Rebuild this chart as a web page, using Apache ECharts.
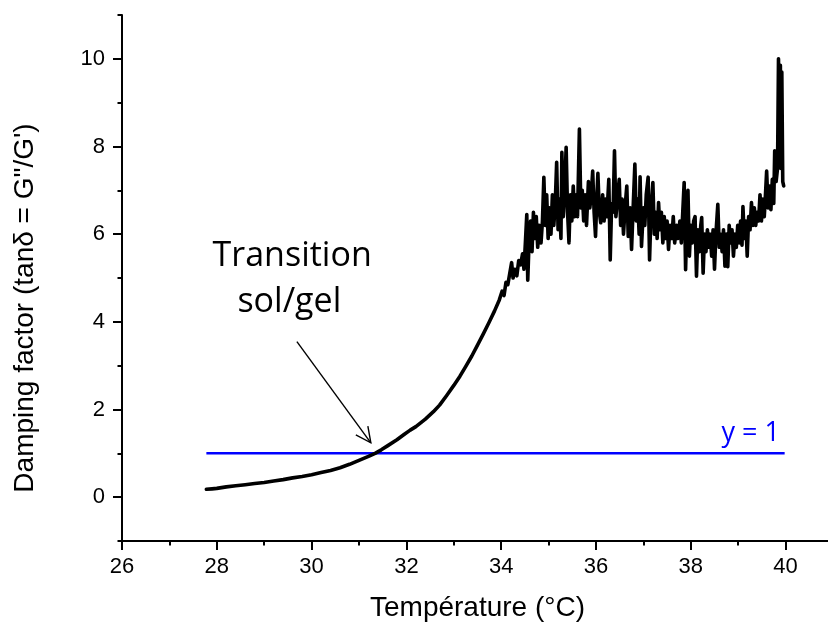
<!DOCTYPE html>
<html><head><meta charset="utf-8">
<script src="https://cdn.jsdelivr.net/npm/echarts@6/dist/echarts.min.js"></script>
<style>html,body{margin:0;padding:0;background:#fff}#c{width:828px;height:628px}</style>
</head><body><div id="c"></div>
<script>
// ---- data ----
const temperature = [
  27.78,27.9,28.0,28.2,28.4,28.6,28.8,29.0,29.2,29.4,
  29.6,29.8,30.0,30.2,30.4,30.6,30.8,31.0,31.2,31.34,
  31.47,31.6,31.8,31.95,32.08,32.2,32.4,32.57,32.7,32.85,
  33.0,33.13,33.25,33.38,33.5,33.62,33.74,33.86,33.96,
  34.02,34.06,34.1,34.14,34.18,34.22,34.25,34.29,34.33,34.37,
  34.41,34.45,34.48,34.51,34.54,34.56,34.59,34.62,34.65,34.68,
  34.71,34.74,34.77,34.8,34.84,34.87,34.9,34.93,34.96,34.99,
  35.02,35.05,35.08,35.11,35.14,35.17,35.2,35.23,35.26,35.28,
  35.31,35.34,35.37,35.4,35.43,35.46,35.49,35.52,35.55,35.58,
  35.61,35.65,35.68,35.71,35.74,35.77,35.8,35.84,35.87,35.9,
  35.93,35.96,35.99,36.02,36.04,36.07,36.1,36.14,36.17,36.2,
  36.23,36.27,36.3,36.33,36.36,36.39,36.42,36.45,36.49,36.52,
  36.55,36.58,36.62,36.65,36.68,36.72,36.75,36.78,36.82,36.85,
  36.88,36.91,36.93,36.96,37.0,37.03,37.06,37.1,37.13,37.16,
  37.2,37.23,37.26,37.29,37.32,37.35,37.38,37.41,37.44,37.47,
  37.5,37.53,37.56,37.6,37.63,37.66,37.7,37.73,37.77,37.8,
  37.83,37.86,37.89,37.92,37.94,37.97,38.0,38.03,38.06,38.09,
  38.12,38.15,38.18,38.21,38.23,38.26,38.29,38.32,38.35,38.38,
  38.41,38.44,38.47,38.5,38.53,38.57,38.6,38.63,38.66,38.69,
  38.72,38.75,38.78,38.81,38.84,38.87,38.9,38.93,38.96,38.99,
  39.02,39.05,39.08,39.1,39.13,39.16,39.19,39.22,39.25,39.28,
  39.31,39.34,39.37,39.4,39.43,39.46,39.49,39.52,39.55,39.58,
  39.6,39.63,39.66,39.69,39.72,39.75,39.77,39.8,39.83,39.85,
  39.87,39.89,39.9,39.92,39.94,39.96
];
const tanDelta = [
  0.18,0.19,0.2,0.235,0.26,0.285,0.31,0.335,0.37,0.4,
  0.44,0.47,0.51,0.56,0.61,0.67,0.75,0.84,0.93,1.0,
  1.08,1.17,1.31,1.43,1.53,1.61,1.78,1.95,2.1,2.32,
  2.55,2.76,2.98,3.22,3.47,3.72,3.98,4.25,4.5,
  4.7,4.6,4.9,4.85,5.1,5.35,5.0,5.2,5.05,5.4,
  5.3,5.55,5.2,5.8,6.45,4.95,5.9,6.3,5.6,6.5,
  5.9,6.4,5.7,6.2,5.8,6.3,7.3,6.2,6.9,5.9,
  6.6,6.0,6.9,6.2,6.7,7.64,6.1,6.8,5.9,7.87,
  6.4,7.0,7.98,6.5,5.8,6.9,6.3,7.1,6.4,6.9,
  6.4,8.4,6.6,7.0,6.3,6.9,6.2,7.2,6.6,6.9,
  7.44,6.5,5.95,6.9,7.39,6.5,6.26,6.9,6.3,6.8,
  6.4,7.25,5.41,6.7,6.5,7.9,6.4,6.8,7.25,6.2,
  6.8,6.0,6.7,7.1,5.95,6.6,5.65,6.5,7.6,6.3,
  6.8,6.0,7.31,5.72,6.6,6.2,6.9,7.3,5.41,6.5,
  7.18,6.0,6.5,5.9,6.72,6.1,6.5,5.8,6.4,5.9,
  6.3,5.65,6.2,5.9,6.4,5.8,6.2,5.9,6.3,5.8,
  6.5,7.18,5.19,6.4,7.0,5.5,6.2,5.8,6.3,6.4,
  5.04,6.1,5.6,6.2,6.38,5.11,6.0,5.6,6.1,5.7,
  6.0,5.5,6.1,5.2,6.0,6.68,5.7,6.0,5.6,6.1,
  5.27,6.0,5.26,6.2,5.8,6.1,5.5,6.0,5.7,6.2,
  5.8,6.3,5.75,6.63,5.9,6.3,5.5,6.4,6.1,6.72,
  6.2,6.6,6.2,6.5,6.3,6.9,6.3,6.8,6.4,7.0,
  7.44,6.6,7.1,6.56,7.25,6.7,7.9,7.2,7.5,10.0,
  8.6,9.85,7.5,9.7,7.2,7.1
];
const refLineX = [27.78, 39.98];
const refLineY = [1, 1];
const xMajorTicks = [26,28,30,32,34,36,38,40];
const xMinorTicks = [27,29,31,33,35,37,39,41];
const yMajorTicks = [0,2,4,6,8,10];
const yMinorTicks = [-1,1,3,5,7,9,11];
const annotationText = ['Transition', 'sol/gel'];
const refLineLabel = 'y = 1';
const xTitle = 'Température (°C)';
const yTitle = 'Damping factor (tanδ = G"/G\')';

// ---- chart ----
const chart = echarts.init(document.getElementById('c'), null, {renderer: 'canvas'});
const AX = '#000';
const numFont = 'Liberation Sans, Arial, sans-serif';
const annFont = 'Open Sans, Noto Sans, sans-serif';

function baseX(extra) {
  return Object.assign({
    type: 'value', min: 26, max: 41, position: 'bottom',
    splitLine: {show: false}
  }, extra);
}
function baseY(extra) {
  return Object.assign({
    type: 'value', min: -1, max: 11, position: 'left',
    splitLine: {show: false}
  }, extra);
}

chart.setOption({
  animation: false,
  backgroundColor: '#fff',
  grid: {left: 122, right: -5, top: 15, bottom: 87, containLabel: false, outerBoundsMode: 'none'},
  xAxis: [
    baseX({
      axisLine: {show: true, onZero: false, lineStyle: {color: AX, width: 2}},
      axisTick: {show: true, customValues: xMajorTicks, length: 9, lineStyle: {color: AX, width: 2}},
      axisLabel: {show: true, customValues: xMajorTicks, fontSize: 22, color: AX, fontFamily: numFont, margin: 15},
      name: xTitle, nameLocation: 'middle', nameGap: 53,
      nameTextStyle: {fontSize: 28, color: AX, fontFamily: numFont}
    }),
    baseX({
      axisLine: {show: false, onZero: false},
      axisTick: {show: true, customValues: xMinorTicks, length: 4.5, lineStyle: {color: AX, width: 2}},
      axisLabel: {show: false}
    })
  ],
  yAxis: [
    baseY({
      axisLine: {show: true, onZero: false, lineStyle: {color: AX, width: 2}},
      axisTick: {show: true, customValues: yMajorTicks, length: 9, lineStyle: {color: AX, width: 2}},
      axisLabel: {show: true, customValues: yMajorTicks, fontSize: 22, color: AX, fontFamily: numFont, margin: 17}
    }),
    baseY({
      offset: 0,
      axisLine: {show: false, onZero: false},
      axisTick: {show: true, customValues: yMinorTicks, length: 4.5, lineStyle: {color: AX, width: 2}},
      axisLabel: {show: false}
    })
  ],
  series: [
    {
      name: 'y = 1', type: 'line', xAxisIndex: 0, yAxisIndex: 0,
      data: refLineX.map((x, i) => [x, refLineY[i]]),
      showSymbol: false, symbol: 'none', z: 2,
      lineStyle: {color: '#0000ff', width: 2.5}
    },
    {
      name: 'tan delta', type: 'line', xAxisIndex: 0, yAxisIndex: 0,
      data: temperature.map((t, i) => [t, tanDelta[i]]),
      showSymbol: false, symbol: 'none', sampling: null, z: 3,
      lineStyle: {color: '#000', width: 3.6, join: 'round', cap: 'round'}
    }
  ]
});

// ---- annotations placed in data coordinates ----
const px = (x, y) => chart.convertToPixel({xAxisIndex: 0, yAxisIndex: 0}, [x, y]);
const line1 = px(29.59, 5.49);
const line2 = px(29.53, 4.44);
const arrowFrom = px(29.69, 3.55);
const arrowTo = px(31.25, 1.24);
const refLab = px(39.88, 1.46);

const dx = arrowTo[0] - arrowFrom[0], dy = arrowTo[1] - arrowFrom[1];
const len = Math.hypot(dx, dy), ux = dx / len, uy = dy / len;
const headLen = 17, ang = 26 * Math.PI / 180;
function rot(vx, vy, a) { return [vx * Math.cos(a) - vy * Math.sin(a), vx * Math.sin(a) + vy * Math.cos(a)]; }
const r1 = rot(-ux, -uy, ang), r2 = rot(-ux, -uy, -ang);
const head = [
  [arrowTo[0] + r1[0] * headLen, arrowTo[1] + r1[1] * headLen],
  [arrowTo[0], arrowTo[1]],
  [arrowTo[0] + r2[0] * headLen, arrowTo[1] + r2[1] * headLen]
];

chart.setOption({
  graphic: [
    {type: 'text', x: 25, y: 308, rotation: Math.PI / 2,
     style: {text: yTitle, fill: AX, font: '28px ' + numFont, align: 'center', verticalAlign: 'middle'}},
    {type: 'text', x: line1[0], y: line1[1],
     style: {text: annotationText[0], fill: '#000', font: '34px ' + annFont, align: 'center', verticalAlign: 'middle'}},
    {type: 'text', x: line2[0], y: line2[1],
     style: {text: annotationText[1], fill: '#000', font: '34px ' + annFont, align: 'center', verticalAlign: 'middle'}},
    {type: 'line', shape: {x1: arrowFrom[0], y1: arrowFrom[1], x2: arrowTo[0], y2: arrowTo[1]},
     style: {stroke: '#000', lineWidth: 1.4}},
    {type: 'polyline', shape: {points: head}, style: {stroke: '#000', lineWidth: 1.4, fill: null}},
    {type: 'text', x: refLab[0], y: refLab[1],
     style: {text: refLineLabel, fill: '#0000ff', font: '27px ' + annFont, align: 'right', verticalAlign: 'middle'}}
  ]
});
</script>
</body></html>
